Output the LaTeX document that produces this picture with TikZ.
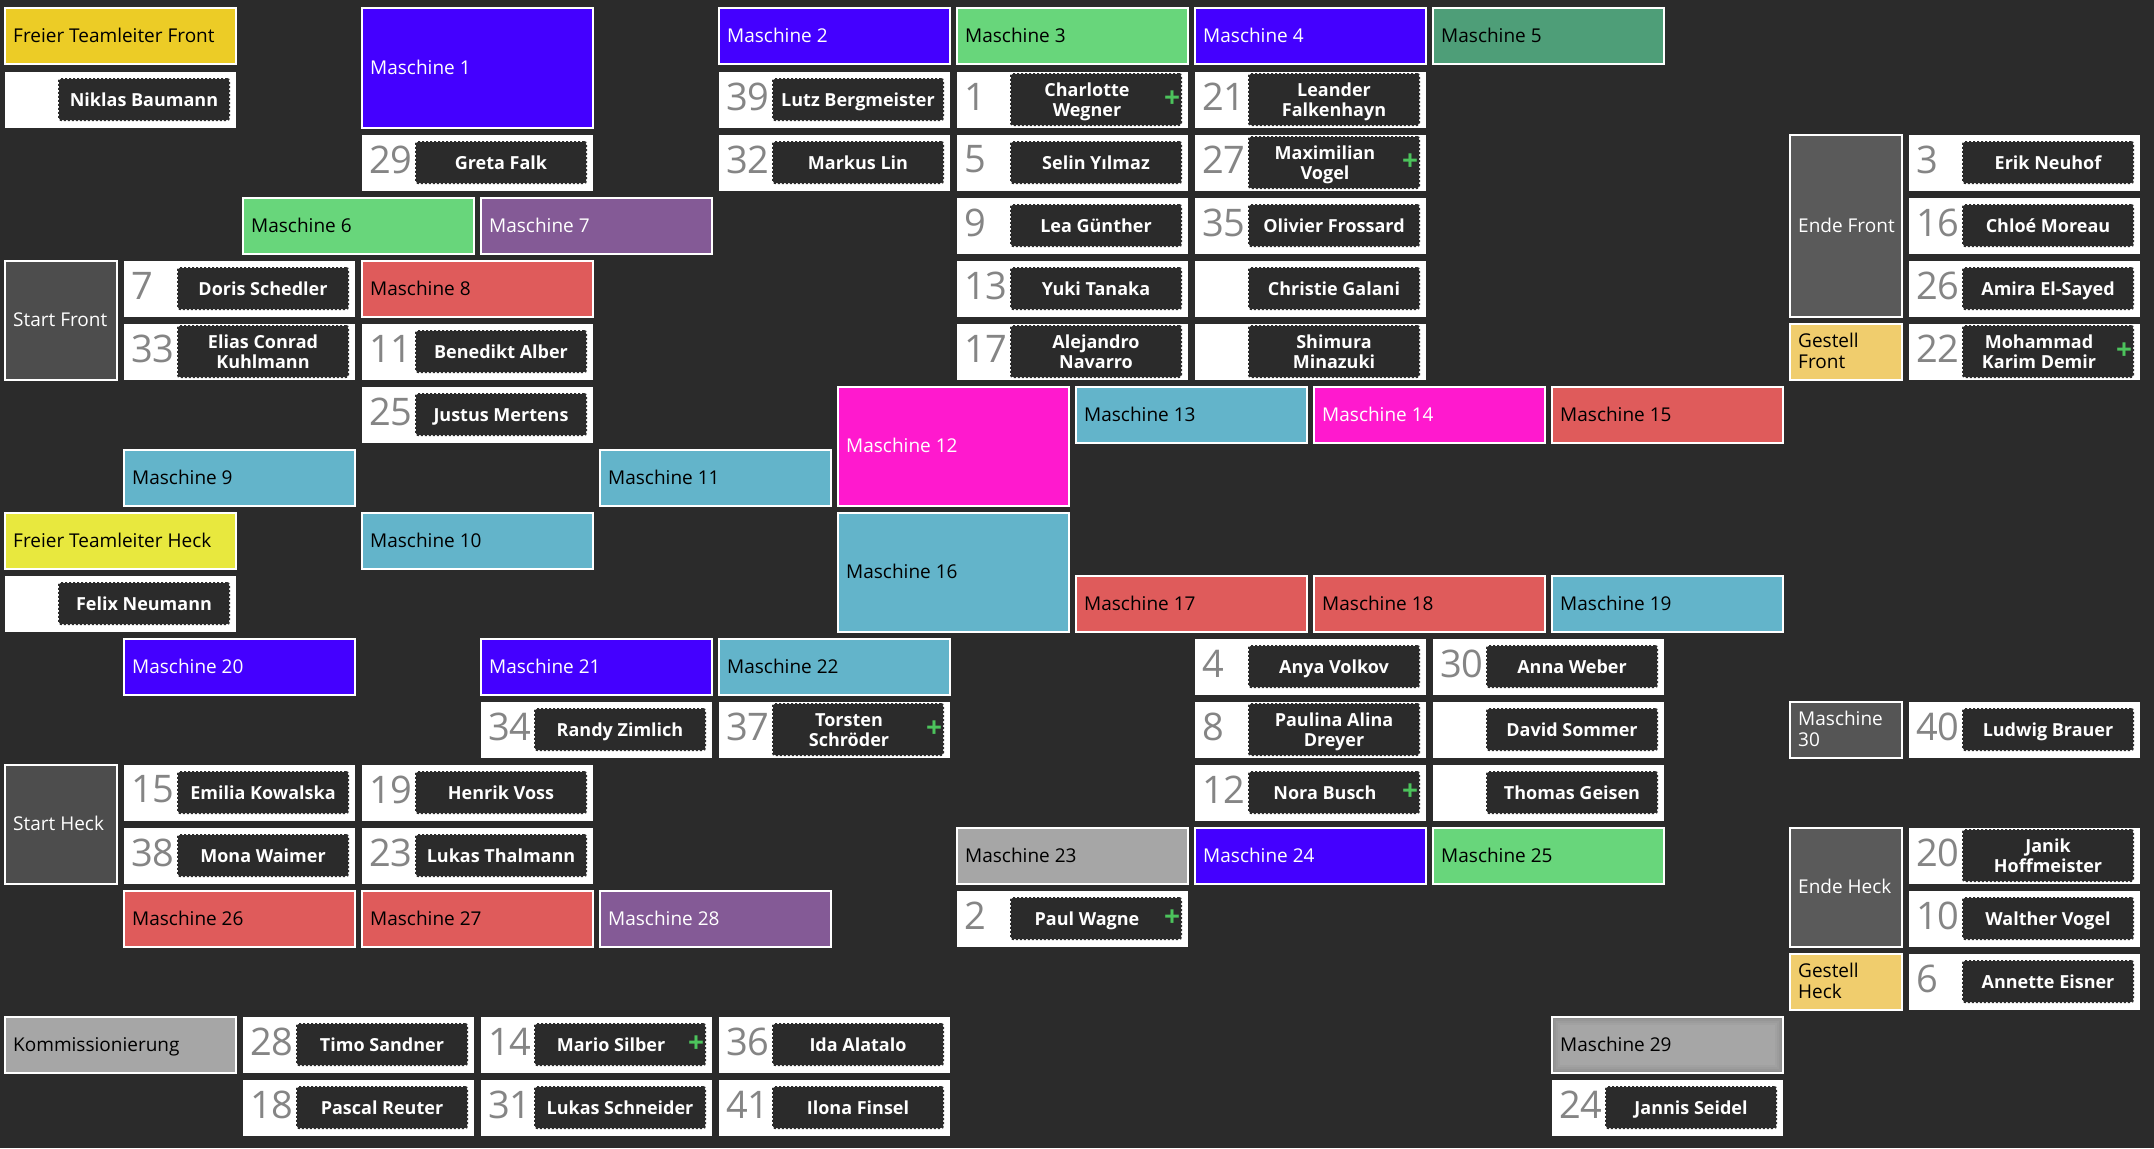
\documentclass[tikz,border=0pt]{standalone}
\usepackage{fontspec}
\setmainfont{Open Sans}
\definecolor{bgdark}{HTML}{2B2B2B}
\definecolor{blueM}{HTML}{4400FF}
\definecolor{greenM}{HTML}{68D67B}
\definecolor{greenD}{HTML}{4E9E78}
\definecolor{purpleM}{HTML}{845A96}
\definecolor{redM}{HTML}{DF5B5B}
\definecolor{magM}{HTML}{FF19CE}
\definecolor{cyanM}{HTML}{63B4CA}
\definecolor{yelF}{HTML}{ECCC26}
\definecolor{yelH}{HTML}{E8E83E}
\definecolor{gestell}{HTML}{F0CD6D}
\definecolor{grayS}{HTML}{4D4D4D}
\definecolor{grayE}{HTML}{5A5A5A}
\definecolor{grayM}{HTML}{555555}
\definecolor{grayL}{HTML}{A6A6A6}
\definecolor{numgray}{HTML}{858585}
\definecolor{plusgreen}{HTML}{4CC35C}
\newcommand{\hs}{\vrule width0pt height18pt depth0pt}
\newcommand{\ds}{\vrule width0pt height0pt depth5pt}
\tikzset{
  cellbase/.style={rectangle, anchor=north west, inner sep=0pt, outer sep=0pt},
  mach/.style={cellbase, draw=white, line width=2pt},
  mlabel/.style={anchor=west, inner sep=0pt, align=left, font=\fontsize{19}{20.5}\selectfont},
  pbox/.style={cellbase, fill=white, minimum width=231pt, minimum height=56pt},
  numtext/.style={anchor=west, inner sep=0pt, text=numgray, font=\fontsize{38}{40}\selectfont},
  namebox/.style={rectangle, fill=bgdark, draw=bgdark, line width=2pt, dash pattern=on 2pt off 2pt, rounded corners=2pt, minimum width=170pt, inner sep=0pt},
  nametext/.style={inner sep=0pt, align=center, text=white, font=\fontsize{18}{20}\selectfont\bfseries},
  plussign/.style={inner sep=0pt, text=plusgreen, font=\fontsize{28}{28}\selectfont\bfseries},
}
% id, j, i, w, h, fill, text colour, label
\newcommand{\mach}[8]{%
  \node[mach, fill=#6, minimum width={119*#4-7}, minimum height={63*#5-7}] (#1) at ({5+119*#2},{8.5+63*#3}) {};
  \node[mlabel, text=#7] (#1t) at ([xshift=8pt]#1.west) {\hs #8\ds};
}
% id, j, i, number, name, plus (0/1), name box height
\newcommand{\pcell}[7]{%
  \node[pbox] (#1) at ({5+119*#2},{8.5+63*#3}) {};
  \node[numtext] (#1n) at ([xshift=7pt,yshift=3pt]#1.west) {#4};
  \node[namebox, minimum height=#7] (#1b) at ([xshift=23.5pt]#1.center) {};
  \node[nametext] (#1t) at ([xshift={-9*#6}]#1b.center) {\hs #5\ds};
  \ifnum#6=1 \node[plussign] (#1p) at ([xshift=-10pt]#1b.east) {+};\fi
}
\begin{document}
\begin{tikzpicture}[x=1pt,y=-1pt]
\useasboundingbox (0,0) rectangle (2154,1148);
\fill[bgdark] (0,0) rectangle (2154,1148);
% machines and stations
\mach{mfl}{0}{0}{2}{1}{yelF}{black}{Freier Teamleiter Front}
\mach{m1}{3}{0}{2}{2}{blueM}{white}{Maschine 1}
\mach{m2}{6}{0}{2}{1}{blueM}{white}{Maschine 2}
\mach{m3}{8}{0}{2}{1}{greenM}{black}{Maschine 3}
\mach{m4}{10}{0}{2}{1}{blueM}{white}{Maschine 4}
\mach{m5}{12}{0}{2}{1}{greenD}{black}{Maschine 5}
\mach{ef}{15}{2}{1}{3}{grayE}{white}{Ende Front}
\mach{m6}{2}{3}{2}{1}{greenM}{black}{Maschine 6}
\mach{m7}{4}{3}{2}{1}{purpleM}{white}{Maschine 7}
\mach{sf}{0}{4}{1}{2}{grayS}{white}{Start Front}
\mach{m8}{3}{4}{2}{1}{redM}{black}{Maschine 8}
\mach{gf}{15}{5}{1}{1}{gestell}{black}{Gestell\\Front}
\mach{m12}{7}{6}{2}{2}{magM}{white}{Maschine 12}
\mach{m13}{9}{6}{2}{1}{cyanM}{black}{Maschine 13}
\mach{m14}{11}{6}{2}{1}{magM}{white}{Maschine 14}
\mach{m15}{13}{6}{2}{1}{redM}{black}{Maschine 15}
\mach{m9}{1}{7}{2}{1}{cyanM}{black}{Maschine 9}
\mach{m11}{5}{7}{2}{1}{cyanM}{black}{Maschine 11}
\mach{flh}{0}{8}{2}{1}{yelH}{black}{Freier Teamleiter Heck}
\mach{m10}{3}{8}{2}{1}{cyanM}{black}{Maschine 10}
\mach{m16}{7}{8}{2}{2}{cyanM}{black}{Maschine 16}
\mach{m17}{9}{9}{2}{1}{redM}{black}{Maschine 17}
\mach{m18}{11}{9}{2}{1}{redM}{black}{Maschine 18}
\mach{m19}{13}{9}{2}{1}{cyanM}{black}{Maschine 19}
\mach{m20}{1}{10}{2}{1}{blueM}{white}{Maschine 20}
\mach{m21}{4}{10}{2}{1}{blueM}{white}{Maschine 21}
\mach{m22}{6}{10}{2}{1}{cyanM}{black}{Maschine 22}
\mach{m30}{15}{11}{1}{1}{grayM}{white}{Maschine\\30}
\mach{sh}{0}{12}{1}{2}{grayS}{white}{Start Heck}
\mach{m23}{8}{13}{2}{1}{grayL}{black}{Maschine 23}
\mach{m24}{10}{13}{2}{1}{blueM}{white}{Maschine 24}
\mach{m25}{12}{13}{2}{1}{greenM}{black}{Maschine 25}
\mach{eh}{15}{13}{1}{2}{grayE}{white}{Ende Heck}
\mach{m26}{1}{14}{2}{1}{redM}{black}{Maschine 26}
\mach{m27}{3}{14}{2}{1}{redM}{black}{Maschine 27}
\mach{m28}{5}{14}{2}{1}{purpleM}{white}{Maschine 28}
\mach{gh}{15}{15}{1}{1}{gestell}{black}{Gestell\\Heck}
\mach{km}{0}{16}{2}{1}{grayL}{black}{Kommissionierung}
% Maschine 29 with inner glow
\node[mach, fill=black!44, minimum width=231, minimum height=56] (m29) at ({5+119*13},{8.5+63*16}) {};
\fill[black!41] ([xshift=2pt,yshift=-2pt]m29.north west) rectangle ([xshift=-2pt,yshift=2pt]m29.south east);
\fill[black!39] ([xshift=4pt,yshift=-4pt]m29.north west) rectangle ([xshift=-4pt,yshift=4pt]m29.south east);
\fill[black!37] ([xshift=6pt,yshift=-6pt]m29.north west) rectangle ([xshift=-6pt,yshift=6pt]m29.south east);
\fill[black!35] ([xshift=8pt,yshift=-8pt]m29.north west) rectangle ([xshift=-8pt,yshift=8pt]m29.south east);
\node[mlabel, text=black] (m29t) at ([xshift=8pt]m29.west) {\hs Maschine 29\ds};
% people
\pcell{p1}{0}{1}{}{Niklas Baumann}{0}{41}
\pcell{p2}{6}{1}{39}{Lutz Bergmeister}{0}{41}
\pcell{p3}{8}{1}{1}{Charlotte\\Wegner}{1}{51}
\pcell{p4}{10}{1}{21}{Leander\\Falkenhayn}{0}{51}
\pcell{p5}{3}{2}{29}{Greta Falk}{0}{41}
\pcell{p6}{6}{2}{32}{Markus Lin}{0}{41}
\pcell{p7}{8}{2}{5}{Selin Yılmaz}{0}{41}
\pcell{p8}{10}{2}{27}{Maximilian\\Vogel}{1}{51}
\pcell{p9}{16}{2}{3}{Erik Neuhof}{0}{41}
\pcell{p10}{8}{3}{9}{Lea Günther}{0}{41}
\pcell{p11}{10}{3}{35}{Olivier Frossard}{0}{41}
\pcell{p12}{16}{3}{16}{Chloé Moreau}{0}{41}
\pcell{p13}{1}{4}{7}{Doris Schedler}{0}{41}
\pcell{p14}{8}{4}{13}{Yuki Tanaka}{0}{41}
\pcell{p15}{10}{4}{}{Christie Galani}{0}{41}
\pcell{p16}{16}{4}{26}{Amira El-Sayed}{0}{41}
\pcell{p17}{1}{5}{33}{Elias Conrad\\Kuhlmann}{0}{51}
\pcell{p18}{3}{5}{11}{Benedikt Alber}{0}{41}
\pcell{p19}{8}{5}{17}{Alejandro\\Navarro}{0}{51}
\pcell{p20}{10}{5}{}{Shimura\\Minazuki}{0}{51}
\pcell{p21}{16}{5}{22}{Mohammad\\Karim Demir}{1}{51}
\pcell{p22}{3}{6}{25}{Justus Mertens}{0}{41}
\pcell{p23}{0}{9}{}{Felix Neumann}{0}{41}
\pcell{p24}{10}{10}{4}{Anya Volkov}{0}{41}
\pcell{p25}{12}{10}{30}{Anna Weber}{0}{41}
\pcell{p26}{4}{11}{34}{Randy Zimlich}{0}{41}
\pcell{p27}{6}{11}{37}{Torsten\\Schröder}{1}{51}
\pcell{p28}{10}{11}{8}{Paulina Alina\\Dreyer}{0}{51}
\pcell{p29}{12}{11}{}{David Sommer}{0}{41}
\pcell{p30}{16}{11}{40}{Ludwig Brauer}{0}{41}
\pcell{p31}{1}{12}{15}{Emilia Kowalska}{0}{41}
\pcell{p32}{3}{12}{19}{Henrik Voss}{0}{41}
\pcell{p33}{10}{12}{12}{Nora Busch}{1}{41}
\pcell{p34}{12}{12}{}{Thomas Geisen}{0}{41}
\pcell{p35}{1}{13}{38}{Mona Waimer}{0}{41}
\pcell{p36}{3}{13}{23}{Lukas Thalmann}{0}{41}
\pcell{p37}{16}{13}{20}{Janik\\Hoffmeister}{0}{51}
\pcell{p38}{8}{14}{2}{Paul Wagne}{1}{41}
\pcell{p39}{16}{14}{10}{Walther Vogel}{0}{41}
\pcell{p40}{16}{15}{6}{Annette Eisner}{0}{41}
\pcell{p41}{2}{16}{28}{Timo Sandner}{0}{41}
\pcell{p42}{4}{16}{14}{Mario Silber}{1}{41}
\pcell{p43}{6}{16}{36}{Ida Alatalo}{0}{41}
\pcell{p44}{2}{17}{18}{Pascal Reuter}{0}{41}
\pcell{p45}{4}{17}{31}{Lukas Schneider}{0}{41}
\pcell{p46}{6}{17}{41}{Ilona Finsel}{0}{41}
\pcell{p47}{13}{17}{24}{Jannis Seidel}{0}{41}
\end{tikzpicture}
\end{document}
